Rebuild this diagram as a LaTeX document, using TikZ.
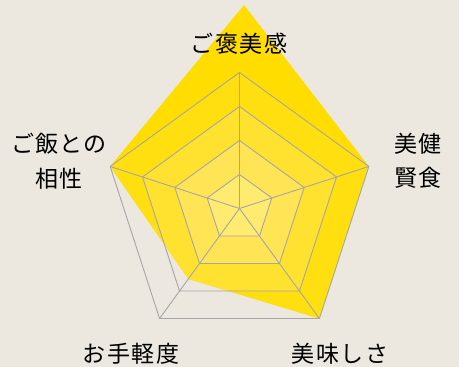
\documentclass[tikz,border=0pt]{standalone}
\usepackage{fontspec}
\newfontfamily\jp[LetterSpace=6]{Noto Sans CJK JP}
\definecolor{bg}{HTML}{ECE8E0}
\definecolor{polyc}{HTML}{FFDD00}
\definecolor{bandd}{HTML}{FFDF10}
\definecolor{bandc}{HTML}{FFE22F}
\definecolor{bandb}{HTML}{FFE555}
\definecolor{banda}{HTML}{FFEB70}
\definecolor{gridgray}{HTML}{A6A6A6}
\begin{document}
\begin{tikzpicture}[x=1pt,y=1pt,
  gridline/.style={draw=gridgray, line width=0.9pt, line join=round},
  lbl/.style={font=\jp\fontsize{23}{34.5}\selectfont, text=black, inner sep=0pt, align=center}]
\useasboundingbox (0,0) rectangle (459,367);
\fill[bg] (0,0) rectangle (459,367);
\coordinate (C) at (239.5,158.5);
\foreach \i/\a in {1/90,2/18,3/-54,4/-126,5/162} {
  \coordinate (o\i) at ([shift={(\a:136)}]C);
  \coordinate (p\i) at ([shift={(\a:102)}]C);
  \coordinate (q\i) at ([shift={(\a:68)}]C);
  \coordinate (r\i) at ([shift={(\a:34)}]C);
}
\coordinate (dT) at (244,362);
\coordinate (dBL) at ([shift={(-126:87)}]C);
% data polygon
\fill[polyc] (dT) -- (o2) -- (o3) -- (dBL) -- (o5) -- cycle;
\begin{scope}
  \clip (dT) -- (o2) -- (o3) -- (dBL) -- (o5) -- cycle;
  \fill[bandd] (o1) -- (o2) -- (o3) -- (o4) -- (o5) -- cycle;
  \fill[bandc] (p1) -- (p2) -- (p3) -- (p4) -- (p5) -- cycle;
  \fill[bandb] (q1) -- (q2) -- (q3) -- (q4) -- (q5) -- cycle;
  \fill[banda] (r1) -- (r2) -- (r3) -- (r4) -- (r5) -- cycle;
\end{scope}
% grid
\draw[gridline] (o1) -- (o2) -- (o3) -- (o4) -- (o5) -- cycle;
\draw[gridline] (p1) -- (p2) -- (p3) -- (p4) -- (p5) -- cycle;
\draw[gridline] (q1) -- (q2) -- (q3) -- (q4) -- (q5) -- cycle;
\draw[gridline] (r1) -- (r2) -- (r3) -- (r4) -- (r5) -- cycle;
\foreach \i in {1,...,5} { \draw[gridline] (C) -- (o\i); }
% labels
\node[lbl] (lT) at (239,323) {ご褒美感};
\node[lbl] (lL) at (59,206) {ご飯との\\相性};
\node[lbl] (lR) at (418,206) {美健\\賢食};
\node[lbl] (lBL) at (131,13) {お手軽度};
\node[lbl] (lBR) at (340,13) {美味しさ};
\end{tikzpicture}
\end{document}
